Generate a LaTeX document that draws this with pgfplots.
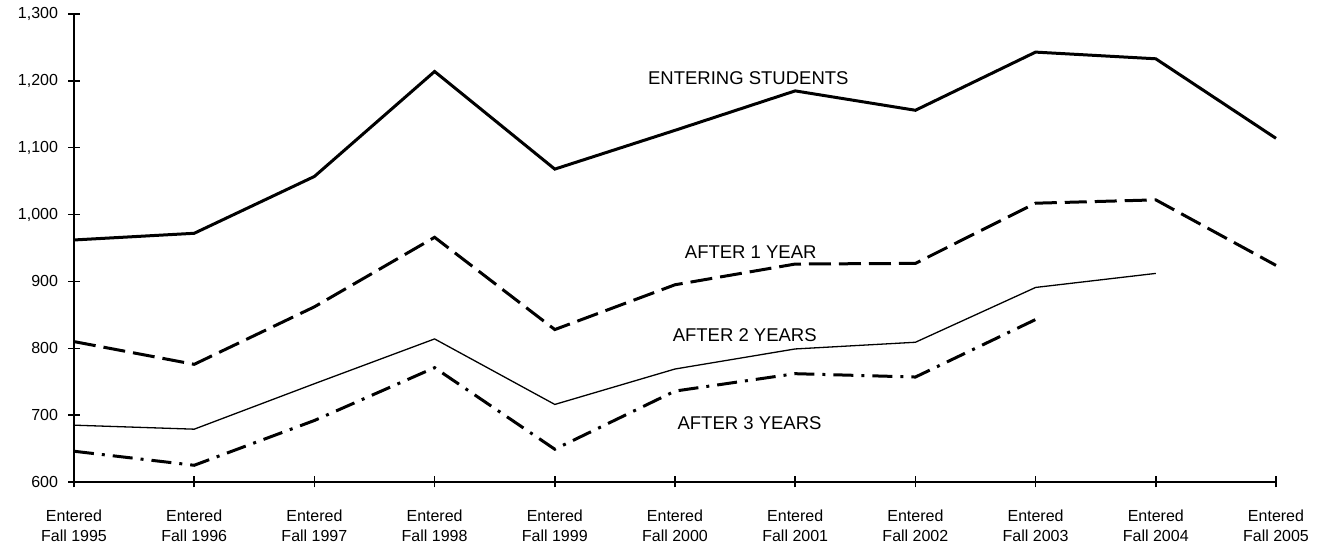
\documentclass[border=0pt]{standalone}
\usepackage{fontspec}
\setmainfont{Liberation Sans}
\usepackage{pgfplots}
\pgfplotsset{compat=1.18}
\pgfplotstableread{
x enter y1 y2 y3
0 962 810 685 646
1 972 776 679 625
2 1057 862 747 692
3 1214 966 814 771
4 1068 828 716 649
5 1126 895 769 736
6 1185 926 799 762
7 1156 927 809 757
8 1243 1017 891 843
9 1233 1022 912 nan
10 1114 924 nan nan
}\data
\begin{document}
\begin{tikzpicture}
\path (-74pt,-60pt) rectangle (1252pt,482pt);
\begin{axis}[
 at={(0,0)}, anchor=south west,
 scale only axis, width=1202pt, height=468pt,
 xmin=0, xmax=10, ymin=600, ymax=1300,
 axis x line=bottom, axis y line=left,
 axis line style={-, line width=1.5pt},
 xtick={0,...,10}, ytick={600,700,...,1300},
 tick align=center, major tick length=11pt,
 tick style={line width=1.5pt, black},
 xticklabels={{Entered\\Fall 1995},{Entered\\Fall 1996},{Entered\\Fall 1997},{Entered\\Fall 1998},{Entered\\Fall 1999},{Entered\\Fall 2000},{Entered\\Fall 2001},{Entered\\Fall 2002},{Entered\\Fall 2003},{Entered\\Fall 2004},{Entered\\Fall 2005}},
 xticklabel style={align=center, font=\fontsize{16}{19.5}\selectfont, yshift=-19pt},
 yticklabel style={font=\fontsize{16}{19}\selectfont, xshift=-7pt},
 /pgf/number format/1000 sep={,},
 /pgf/number format/assume math mode=true,
 clip=false,
 unbounded coords=jump,
]
\addplot[black, line width=3pt, line join=miter] table[x=x,y=enter]{\data};
\addplot[black, line width=3pt, dash pattern=on 22pt off 8pt] table[x=x,y=y1]{\data};
\addplot[black, line width=1.3pt] table[x=x,y=y2]{\data};
\addplot[black, line width=3pt, dash pattern=on 20pt off 8pt on 3pt off 8pt] table[x=x,y=y3]{\data};
\node[font=\fontsize{18.5}{22}\selectfont] at (axis cs:5.61,1204) {ENTERING STUDENTS};
\node[font=\fontsize{18.5}{22}\selectfont] at (axis cs:5.63,944) {AFTER 1 YEAR};
\node[font=\fontsize{18.5}{22}\selectfont] at (axis cs:5.58,819) {AFTER 2 YEARS};
\node[font=\fontsize{18.5}{22}\selectfont] at (axis cs:5.62,688) {AFTER 3 YEARS};
\end{axis}
\end{tikzpicture}
\end{document}
